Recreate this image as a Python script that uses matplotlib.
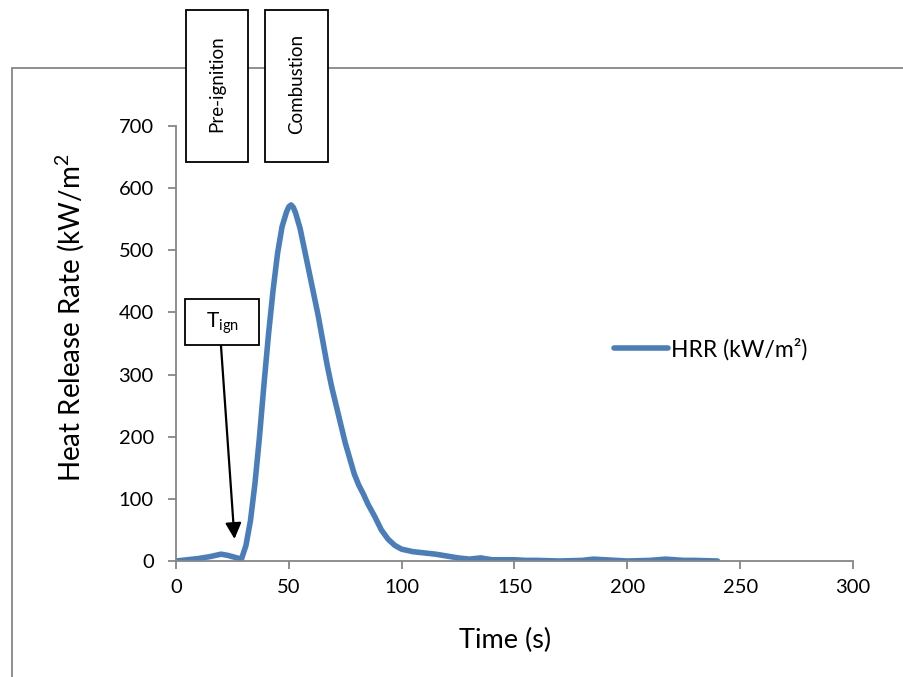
import matplotlib
matplotlib.use("Agg")
import matplotlib.pyplot as plt
from matplotlib.patches import Rectangle

plt.rcParams['font.family'] = ['Lato', 'DejaVu Sans']

time_s = [0, 5, 10, 15, 20, 23, 26, 29, 31, 33, 35, 37, 39, 41, 43, 45, 47, 49, 50, 51, 52,
          53, 55, 57, 59, 61, 63, 65, 67, 69, 71, 73, 75, 77, 79, 81, 83, 85, 88,
          91, 94, 97, 100, 105, 110, 115, 120, 125, 130, 135, 140, 145, 150, 155,
          160, 170, 180, 185, 190, 200, 210, 217, 225, 230, 240]
hrr = [0, 2, 4, 7, 11, 9, 6, 3, 25, 65, 125, 200, 285, 365, 435, 495, 538, 562, 570, 573, 569,
       560, 535, 500, 465, 430, 395, 355, 315, 280, 250, 220, 190, 165, 140, 122, 108,
       92, 72, 50, 35, 25, 19, 15, 13, 11, 8, 5, 3, 5, 2, 2, 2, 1,
       1, 0, 1, 3, 2, 0, 1, 3, 1, 1, 0]

x_ticks = [0, 50, 100, 150, 200, 250, 300]
y_ticks = [0, 100, 200, 300, 400, 500, 600, 700]
series_label = "HRR (kW/m²)"
phase_labels = ["Pre-ignition", "Combustion"]

W, H = 904, 677
fig = plt.figure(figsize=(W / 100, H / 100), dpi=100)

def fx(px):
    return px / W

def fy(py):
    return 1 - py / H

GRAY = "#868686"
BLUE = "#4A7EBB"

# outer chart frame
fig.patches.append(Rectangle((fx(12), fy(690)), fx(1000), fy(68) - fy(690),
                             transform=fig.transFigure, fill=False,
                             edgecolor=GRAY, linewidth=1.3, zorder=0))

ax = fig.add_axes([fx(176), fy(561), fx(853) - fx(176), fy(126) - fy(561)])
ax.patch.set_alpha(0)
ax.plot(time_s, hrr, color=BLUE, linewidth=4.0, solid_joinstyle='round',
        solid_capstyle='round', label=series_label)
ax.set_xlim(0, 300)
ax.set_ylim(0, 700)
ax.set_xticks(x_ticks)
ax.set_yticks(y_ticks)
for s in ['top', 'right']:
    ax.spines[s].set_visible(False)
for s in ['left', 'bottom']:
    ax.spines[s].set_color(GRAY)
    ax.spines[s].set_linewidth(1.3)
ax.tick_params(axis='both', direction='out', length=6, width=1.3, color=GRAY,
               labelsize=14.5, labelcolor='black')
ax.tick_params(axis='x', pad=7)
ax.tick_params(axis='y', pad=10)

leg = ax.legend(loc='center left', bbox_to_anchor=((614 - 176) / 677, (561 - 349) / 435),
                frameon=False, fontsize=16.5, handlelength=2.35, handletextpad=0.12,
                borderaxespad=0, borderpad=0)

fig.text(fx(70), fy(318), "Heat Release Rate (kW/m$^\\mathregular{2}$", rotation=90,
         ha='center', va='center', fontsize=20)
fig.text(fx(505), fy(640), "Time (s)", ha='center', va='center', fontsize=19.5)

# phase boxes
boxes = [(186, 248), (265, 328)]
for (x0, x1), lab in zip(boxes, phase_labels):
    fig.patches.append(Rectangle((fx(x0), fy(162)), fx(x1) - fx(x0), fy(10) - fy(162),
                                 transform=fig.transFigure, facecolor='white',
                                 edgecolor='black', linewidth=1.3, zorder=5))
    fig.text(fx((x0 + x1) / 2), fy(84), lab, rotation=90, ha='center', va='center',
             fontsize=13.5, zorder=6)

# T_ign box
fig.patches.append(Rectangle((fx(185), fy(345)), fx(259) - fx(185), fy(299) - fy(345),
                             transform=fig.transFigure, facecolor='white',
                             edgecolor='black', linewidth=1.3, zorder=5))
fig.text(fx(222), fy(323), "T$_\\mathregular{ign}$", ha='center', va='center',
         fontsize=15, zorder=6)

fig.add_artist(matplotlib.patches.FancyArrowPatch(
    (fx(221), fy(346)), (fx(234.5), fy(539)), transform=fig.transFigure,
    arrowstyle='-|>', mutation_scale=24, linewidth=1.6, color='black', zorder=6,
    shrinkA=0, shrinkB=0))

fig.savefig("out.png", dpi=100)
